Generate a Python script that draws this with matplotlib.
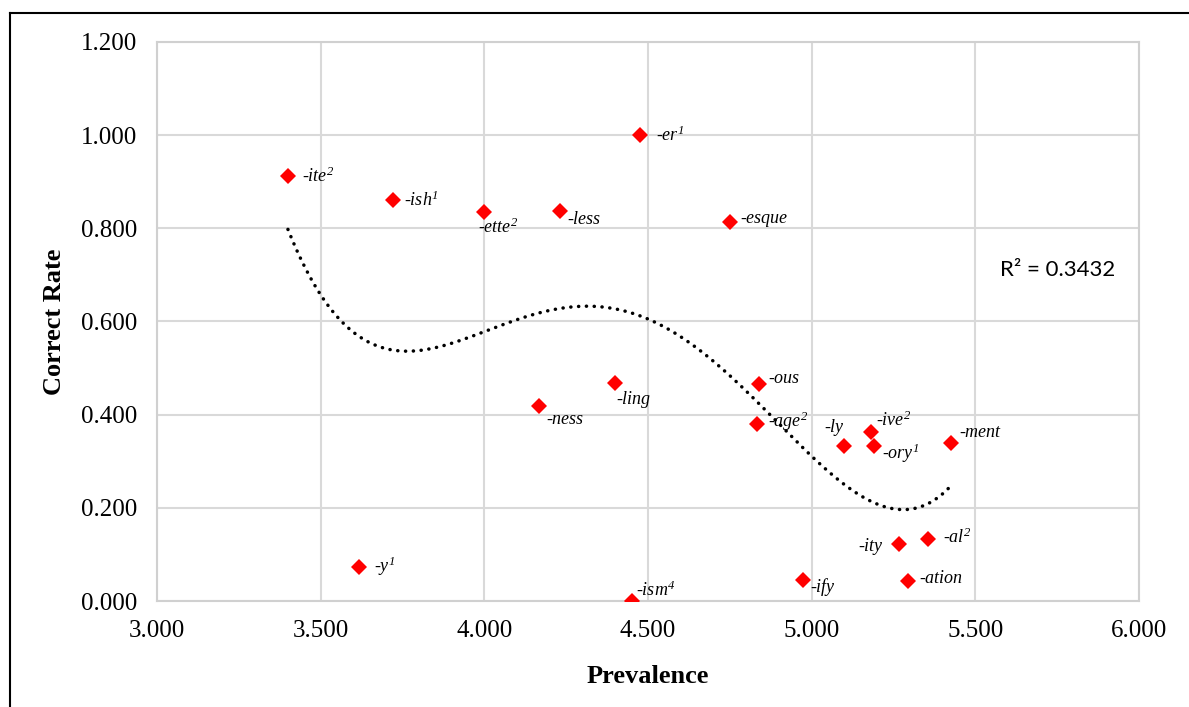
import numpy as np
import matplotlib.pyplot as plt
from matplotlib.lines import Line2D

plt.rcParams['font.family'] = 'Liberation Serif'
plt.rcParams['mathtext.fontset'] = 'custom'
plt.rcParams['mathtext.rm'] = 'Liberation Serif:italic'
plt.rcParams['mathtext.it'] = 'Liberation Serif:italic'

# suffix data
suffixes = ["-ite$^2$", "-ish$^1$", "-ette$^2$", "-less", "-er$^1$", "-esque",
            "-ling", "-ness", "-ous", "-age$^2$", "-ly", "-ive$^2$", "-ory$^1$",
            "-ment", "-ity", "-al$^2$", "-ify", "-ation", "-ism$^4$", "-y$^1$"]
prevalence = [3.400, 3.720, 4.000, 4.231, 4.475, 4.750,
              4.400, 4.167, 4.839, 4.833, 5.098, 5.182, 5.189,
              5.426, 5.267, 5.354, 4.975, 5.295, 4.450, 3.618]
correct = [0.912, 0.861, 0.834, 0.838, 1.000, 0.813,
           0.468, 0.418, 0.466, 0.380, 0.333, 0.362, 0.332,
           0.340, 0.122, 0.133, 0.045, 0.044, 0.000, 0.074]

# label offsets in pixels (dx, dy, ha)
offsets = [(14, 0, 'left'), (11, 0, 'left'), (-6, -15, 'left'), (7, -9, 'left'),
           (16, 0, 'left'), (10, 4, 'left'), (1, -17, 'left'), (7, -13, 'left'),
           (9, 5, 'left'), (11, 3, 'left'), (0, 18, 'right'), (5, 12, 'left'),
           (8, -7, 'left'), (8, 10, 'left'), (-17, -2, 'right'), (15, 2, 'left'),
           (7, -7, 'left'), (11, 2, 'left'), (4, 11, 'left'), (15, 0, 'left')]

fig = plt.figure(figsize=(11.89, 7.07), dpi=100)
ax = fig.add_axes([157/1189, 1-601/707, (1139-157)/1189, (601-42)/707])

x = np.array(prevalence)
y = np.array(correct)
# Excel style polynomial trendline (order 4)
coef = np.polyfit(x, y, 4)
xs = np.linspace(x.min(), x.max(), 300)
ax.plot(xs, np.polyval(coef, xs), color='black', lw=2.5,
        linestyle=(0, (0.05, 2.2)), dash_capstyle='round', zorder=2)

ax.plot(x, y, 'D', color='#ff0000', ms=7.8, mew=0, zorder=3)

for s, px, py, (dx, dy, ha) in zip(suffixes, prevalence, correct, offsets):
    ax.annotate(s, (px, py), xytext=(dx*0.72, dy*0.72), textcoords='offset points',
                ha=ha, va='center', fontsize=13, style='italic', zorder=4)

ax.text(1.0 - (1139-1058)/982, 1-(270-42)/559, "R² = 0.3432", transform=ax.transAxes,
        ha='center', va='center', fontsize=16, family='Lato')

ax.set_xlim(3, 6)
ax.set_ylim(0, 1.2)
ax.set_xticks(np.arange(3, 6.01, 0.5))
ax.set_yticks(np.arange(0, 1.21, 0.2))
ax.xaxis.set_major_formatter(plt.FuncFormatter(lambda v, p: f"{v:.3f}"))
ax.yaxis.set_major_formatter(plt.FuncFormatter(lambda v, p: f"{v:.3f}"))
ax.tick_params(length=0, labelsize=18, pad=14)
ax.grid(True, color='#d9d9d9', lw=1.5)
ax.set_axisbelow(True)
for sp in ax.spines.values():
    sp.set_color('#d0d0d0')
    sp.set_linewidth(1.5)

ax.set_xlabel("Prevalence", fontsize=19, fontweight='bold', labelpad=16)
ax.set_ylabel("Correct Rate", fontsize=19, fontweight='bold', labelpad=11)

# outer frame (only left and top edges visible)
fig.add_artist(Line2D([10/1189, 10/1189], [0, 1-13/707], transform=fig.transFigure,
                      color='black', lw=1.5))
fig.add_artist(Line2D([10/1189, 1], [1-13/707, 1-13/707], transform=fig.transFigure,
                      color='black', lw=1.5))

fig.savefig("out.png", dpi=100)
